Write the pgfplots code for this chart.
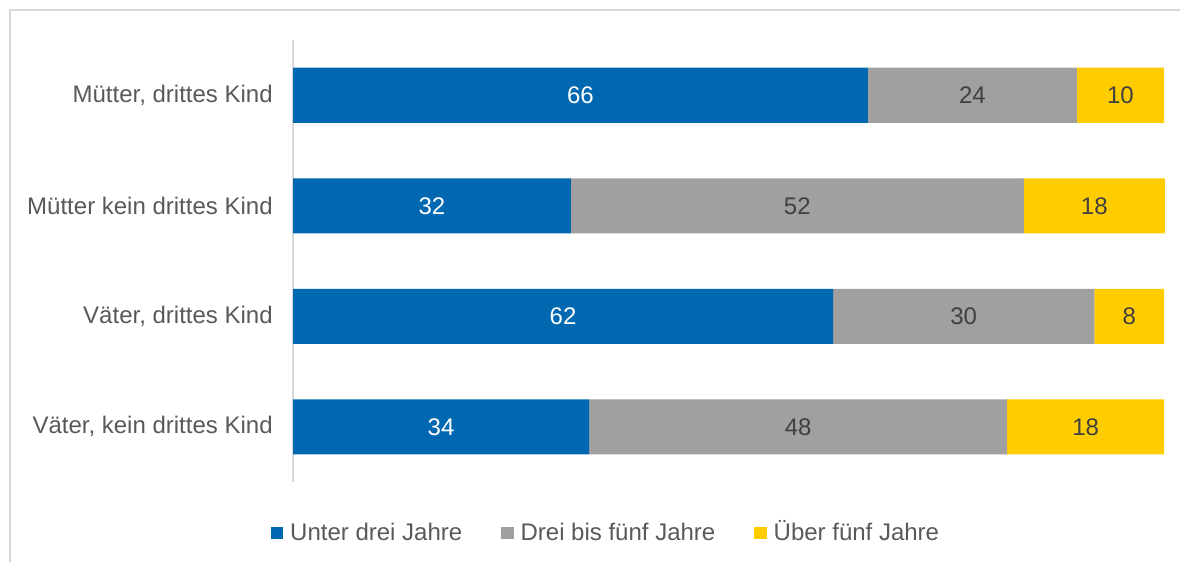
\documentclass[border=0pt]{standalone}
\usepackage{pgfplots}
\usepackage{pgfplotstable}
\pgfplotsset{compat=1.18}
\usepackage{fontspec}
\setmainfont{Liberation Sans}
\definecolor{cblue}{HTML}{0068B1}
\definecolor{cgray}{HTML}{A0A0A0}
\definecolor{cyellow}{HTML}{FFCC00}
\definecolor{ctext}{HTML}{595959}
\definecolor{cdark}{HTML}{404040}
\definecolor{cline}{HTML}{D9D9D9}
% segment widths as drawn
\pgfplotstableread{
y u d o
4 66 24 10
3 31.9 52 16.2
2 62 30 8
1 34 48 18
}\datatable
% label positions (segment centres) and printed labels
\pgfplotstableread{
y xu lu xd ld xo lo
4 33 66 78 24 95 10
3 15.95 32 57.9 52 92 18
2 31 62 77 30 96 8
1 17 34 58 48 91 18
}\labeltable
\pgfplotsset{common/.style={
  at={(175.8pt,48pt)}, anchor=south west,
  scale only axis, width=522.6pt, height=265.2pt,
  xmin=0, xmax=100, ymin=0.5, ymax=4.5, clip=false}}
\begin{document}
\fontsize{14.4}{17}\selectfont
\begin{tikzpicture}
\useasboundingbox (0,0) rectangle (708pt,337.2pt);
\draw[cline, line width=0.9pt] (6pt,0) -- (6pt,331.2pt) -- (708pt,331.2pt);
\begin{axis}[
  common,
  xbar stacked, bar width=33pt,
  axis x line=none, axis y line*=left,
  y axis line style={draw=cline, line width=1.2pt, -},
  ytick={1,2,3,4},
  yticklabels={{Väter, kein drittes Kind},{Väter, drittes Kind},{Mütter kein drittes Kind},{Mütter, drittes Kind}},
  major tick length=0pt,
  yticklabel style={font=\fontsize{14.4}{17}\selectfont, text=ctext, inner sep=0pt, xshift=-12pt},
  legend columns=3,
  legend style={at={(0.362,-0.115)}, anchor=center, draw=none, fill=none,
    font=\fontsize{14.4}{17}\selectfont, text=ctext,
    /tikz/every even column/.append style={column sep=19pt},
    nodes={inner xsep=4.2pt, text height=0.8em, text depth=0.2em}},
  legend image code/.code={\fill[#1] (0pt,-3.8pt) rectangle (7.6pt,3.8pt);},
]
\addplot[fill=cblue, draw=none] table[x=u, y=y] {\datatable};
\addplot[fill=cgray, draw=none] table[x=d, y=y] {\datatable};
\addplot[fill=cyellow, draw=none] table[x=o, y=y] {\datatable};
\legend{Unter drei Jahre, Drei bis fünf Jahre, Über fünf Jahre}
\end{axis}
\begin{axis}[
  common, hide axis,
  point meta=explicit symbolic,
  nodes near coords,
  every node near coord/.append style={anchor=center, font=\fontsize{14.4}{17}\selectfont},
]
\addplot[draw=none, mark=none, nodes near coords style={text=white}] table[x=xu, y=y, meta=lu] {\labeltable};
\addplot[draw=none, mark=none, nodes near coords style={text=cdark}] table[x=xd, y=y, meta=ld] {\labeltable};
\addplot[draw=none, mark=none, nodes near coords style={text=cdark}] table[x=xo, y=y, meta=lo] {\labeltable};
\end{axis}
\end{tikzpicture}
\end{document}
